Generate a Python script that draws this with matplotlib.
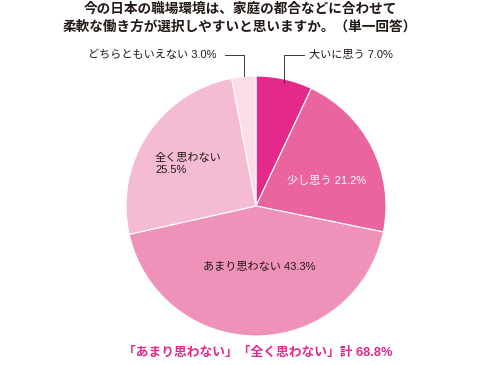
import matplotlib
matplotlib.use('Agg')
import matplotlib.pyplot as plt

plt.rcParams['font.family'] = ['Noto Sans CJK JP', 'DejaVu Sans']
lab_font = ['Liberation Sans', 'Noto Sans CJK JP']

# data
labels = ['大いに思う', '少し思う', 'あまり思わない', '全く思わない', 'どちらともいえない']
values = [7.0, 21.2, 43.3, 25.5, 3.0]
colors = ['#e4298a', '#ea65a0', '#ef92b9', '#f4bbd3', '#fbdde8']
title = '今の日本の職場環境は、家庭の都合などに合わせて\n柔軟な働き方が選択しやすいと思いますか。（単一回答）'
note = '「あまり思わない」「全く思わない」計 68.8%'

W, H = 489, 365
fig = plt.figure(figsize=(W / 100, H / 100), dpi=100)
ax = fig.add_axes([0, 0, 1, 1])

cx, cy, r = 256, H - 206, 130
ax.pie(values, colors=colors, startangle=90, counterclock=False,
       center=(cx, cy), radius=r, frame=True,
       wedgeprops=dict(edgecolor='white', linewidth=0.8))
ax.set_xlim(0, W)
ax.set_ylim(0, H)
ax.set_aspect('equal')
ax.axis('off')

def y(p):
    return H - p

ax.text(240, y(18), title, ha='center', va='center', fontsize=9.8,
        fontweight='bold', color='#231815', linespacing=1.35)

txt = '#231815'
ax.text(88, y(55), f'{labels[4]} {values[4]:.1f}%', ha='left', va='center', fontsize=8,
        color=txt, family=lab_font)
ax.plot([225, 244, 244], [y(55), y(55), y(76)], color='#3e3a39', lw=0.7)

ax.text(309, y(55), f'{labels[0]} {values[0]:.1f}%', ha='left', va='center', fontsize=8,
        color=txt, family=lab_font)
ax.plot([304, 284, 284], [y(55), y(55), y(83)], color='#3e3a39', lw=0.7)

ax.text(287, y(181), f'{labels[1]} {values[1]:.1f}%', ha='left', va='center', fontsize=8,
        color='white', family=lab_font)
ax.text(155, y(164), f'{labels[3]}\n{values[3]:.1f}%', ha='left', va='center', fontsize=8,
        color=txt, linespacing=1.15, family=lab_font)
ax.text(203, y(267), f'{labels[2]} {values[2]:.1f}%', ha='left', va='center', fontsize=8,
        color=txt, family=lab_font)

ax.text(123, y(353), note, ha='left', va='center', fontsize=9.2, color='#e4298a',
        fontweight='bold', family=lab_font)

fig.savefig('out.png', dpi=100)
